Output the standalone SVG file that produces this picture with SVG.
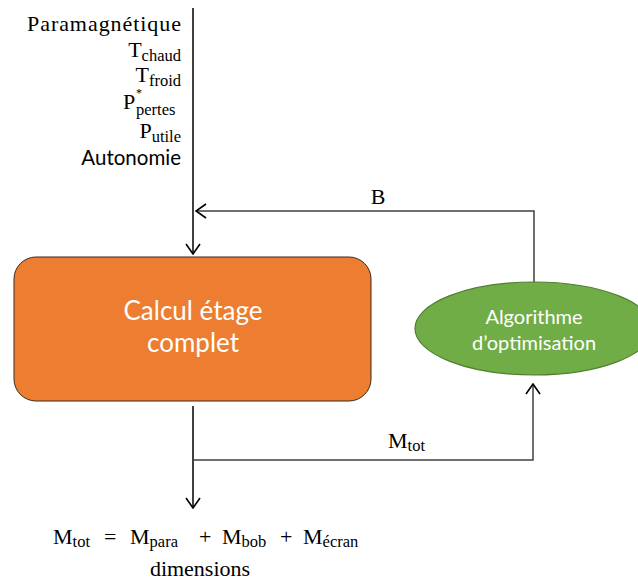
<svg xmlns="http://www.w3.org/2000/svg" width="638" height="588" viewBox="0 0 638 588">
<defs>
<marker id="arr" viewBox="0 0 12 16" refX="11" refY="8" markerWidth="12" markerHeight="16" markerUnits="userSpaceOnUse" orient="auto">
<path d="M1,1 L11,8 L1,15" fill="none" stroke="#000" stroke-width="1.6"/>
</marker>
</defs>
<style>
.m{font-family:"Liberation Serif",serif;font-size:22px;fill:#000}
.sub{font-size:16.5px}
.s{font-family:Lato,"Liberation Sans",sans-serif}
.ln{fill:none;stroke:#000;stroke-width:1.5}
.ln2{fill:none;stroke:#404040;stroke-width:1.5}
</style>
<rect width="638" height="588" fill="#fff"/>
<g id="inputs">
<text class="m" x="181" y="31" text-anchor="end" textLength="154">Paramagnétique</text>
<text class="m" x="181" y="57" text-anchor="end">T<tspan class="sub" dy="4">chaud</tspan></text>
<text class="m" x="181" y="82" text-anchor="end">T<tspan class="sub" dy="4">froid</tspan></text>
<text class="m" x="123" y="108.5">P<tspan x="136" y="97" font-size="12">*</tspan><tspan class="sub" x="136" y="114.5">pertes</tspan></text>
<text class="m" x="181" y="138" text-anchor="end">P<tspan class="sub" dy="3.5">utile</tspan></text>
<text class="s" x="181" y="165" text-anchor="end" font-size="20.5">Autonomie</text>
</g>
<g id="connectors">
<path class="ln" d="M193,8 V254" marker-end="url(#arr)"/>
<path class="ln2" d="M534,282 V211 H196" marker-end="url(#arr)"/>
<path class="ln" d="M193,406 V508" marker-end="url(#arr)"/>
<path class="ln2" d="M193,460 H533 V384" marker-end="url(#arr)"/>
<text class="m" x="378" y="204" text-anchor="middle" font-size="21">B</text>
<text class="m" x="388" y="448" font-size="21">M<tspan class="sub" dy="3" font-size="16">tot</tspan></text>
</g>
<g id="calcul">
<rect x="14" y="257" width="357" height="144" rx="22" ry="22" fill="#ED7D31" stroke="#3a2a1a" stroke-width="1"/>
<text class="s" x="193" y="320" text-anchor="middle" font-size="26" fill="#fff">Calcul étage</text>
<text class="s" x="193" y="352" text-anchor="middle" font-size="26" fill="#fff">complet</text>
</g>
<g id="algo">
<ellipse cx="534" cy="328.5" rx="119" ry="46.5" fill="#70AD47" stroke="#507E32" stroke-width="1.2"/>
<text class="s" x="534" y="324" text-anchor="middle" font-size="20" fill="#fff">Algorithme</text>
<text class="s" x="534" y="350" text-anchor="middle" font-size="20" fill="#fff">d’optimisation</text>
</g>
<g id="output">
<text class="m" y="544" font-size="23">
<tspan x="53">M</tspan><tspan class="sub" dy="3">tot</tspan><tspan x="104" dy="-3">=</tspan><tspan x="130">M</tspan><tspan class="sub" dy="3">para</tspan><tspan x="199" dy="-3">+</tspan><tspan x="222">M</tspan><tspan class="sub" dy="3">bob</tspan><tspan x="280" dy="-3">+</tspan><tspan x="303">M</tspan><tspan class="sub" dy="3">écran</tspan>
</text>
<text class="m" x="200" y="576" text-anchor="middle" font-size="21">dimensions</text>
</g>
</svg>
